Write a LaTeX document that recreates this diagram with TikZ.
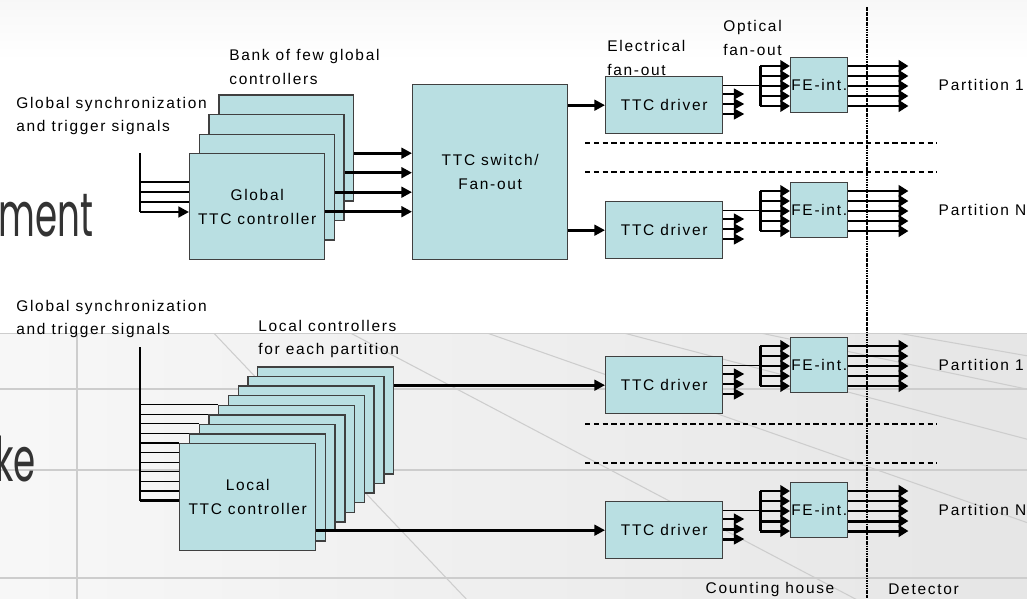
\documentclass[tikz,border=0pt]{standalone}
\usepackage{fontspec}
\setmainfont{Liberation Sans}[LetterSpace=11]
\newfontfamily\slidefont{Poppins}[FakeStretch=0.58]
\usetikzlibrary{positioning,arrows.meta,calc}

\definecolor{ttcbox}{RGB}{185,223,226}
\definecolor{gridgray}{RGB}{205,205,205}
\newcommand\lblfont{\fontsize{8.8pt}{13.6pt}\selectfont}

\begin{document}
\begin{tikzpicture}[x=0.02cm, y=-0.02cm,
    blk/.style={draw=black!75, fill=ttcbox, line width=0.8pt, inner sep=0pt,
                anchor=north west, align=center, font=\lblfont},
    ctrl/.style={blk, minimum width=2.7cm, minimum height=2.12cm},
    lctrl/.style={blk, minimum width=2.72cm, minimum height=2.14cm},
    drv/.style={blk, minimum width=2.34cm, minimum height=1.14cm},
    feint/.style={blk, minimum width=1.14cm, minimum height=1.1cm},
    lbl/.style={inner sep=0pt, anchor=west, align=left, font=\lblfont},
    wire/.style={line width=0.6pt},
    sig/.style={line width=1.7pt, -{Triangle[length=6pt,width=6pt]}},
    fan/.style={line width=1.7pt, -{Triangle[length=5.5pt,width=6.5pt]}},
    sep/.style={line width=0.9pt, dash pattern=on 3pt off 2pt},
]
\useasboundingbox (0,0) rectangle (1027,598);
%
% slide background
\fill[white] (0,0) rectangle (1027,598);
\shade[top color=black!3, bottom color=white] (0,0) rectangle (1027,60);
\shade[left color=black!3, right color=black!10] (0,333) rectangle (1027,598);
\begin{scope}
  \clip (0,333) rectangle (1027,598);
  \coordinate (vp) at (77,189);
  \foreach \k in {0,...,7}
    \draw[gridgray, line width=0.6pt] (vp) -- ($(vp)!5!(77+136.7*\k,333)$);
  \foreach \y in {333,389,470,578}
    \draw[gridgray, line width=0.8pt] (0,\y) -- (1027,\y);
\end{scope}
\node[font={\slidefont\fontsize{35pt}{36pt}\selectfont}, text=black!80, anchor=base west, inner sep=0pt] (ment) at (-2,236) {ment};
\node[font={\slidefont\fontsize{35pt}{36pt}\selectfont}, text=black!80, anchor=base east, inner sep=0pt] (ke) at (36,481) {ke};
%
% labels
\node[lbl] (gsync) at (16,116) {Global synchronization\\and trigger signals};
\node[lbl] (bank) at (229,67) {Bank of few global\\controllers};
\node[lbl] (efan) at (607,58) {Electrical\\fan-out};
\node[lbl] (ofan) at (723,38) {Optical\\fan-out};
\node[lbl] (lsync) at (16,319) {Global synchronization\\and trigger signals};
\node[lbl] (lpart) at (258,339) {Local controllers\\for each partition};
%
% global controllers
\foreach \i in {3,2,1}
  \node[ctrl] (gc\i) at ({189+9.7*\i},{153-19.5*\i}) {};
\node[ctrl] (gc0) at (189,153) {Global\\TTC controller};
\node[blk, minimum width=3.1cm, minimum height=3.5cm] (sw) at (412,84) {TTC switch/\\Fan-out};
%
% local controllers
\foreach \i in {8,7,...,1}
  \node[lctrl] (lc\i) at ({179+9.75*\i},{443-9.6*\i}) {};
\node[lctrl] (lc0) at (179,443) {Local\\TTC controller};
%
% drivers and front-end interfaces
\foreach \n/\t in {1/76,2/201,3/356,4/501} {
  \node[drv] (drv\n) at (605,\t) {TTC driver};
  \node[feint] (fe\n) at (790,\t-19) {FE-int.};
}
%
% global inputs
\coordinate (gbus) at (140,153);
\foreach \d in {29,39,49} {
  \path (gc0.north west) ++(0,\d) coordinate (gin);
  \draw[wire] (gbus |- gin) -- (gin);
}
\path (gc0.north west) ++(0,59) coordinate (gin);
\draw[sig] (gbus |- gin) -- (gin);
\draw[wire] (gbus) -- (gbus |- gin);
%
\foreach \i in {0,...,3} {
  \path (gc\i.east) ++(0,5) coordinate (gout);
  \draw[sig] (gout) -- (sw.west |- gout);
}
\draw[sig] (sw.east |- drv1.west) -- (drv1.west);
\draw[sig] (sw.east |- drv2.west) -- (drv2.west);
%
% local inputs
\coordinate (lbus) at (140,347);
\foreach \k in {0,...,9} {
  \pgfmathtruncatemacro\j{max(4-\k,0)}
  \pgfmathsetmacro\yy{404.6+9.6*\k}
  \path (lc\j.west |- 0,\yy) coordinate (lin);
  \draw[wire] (lbus |- lin) -- (lin);
}
\path (lc0.west |- 0,500.6) coordinate (lin);
\draw[line width=1.7pt] (lbus |- lin) -- (lin);
\draw[wire] (lbus) -- (lbus |- lin);
%
\draw[sig] (lc8.east |- drv3.west) -- (drv3.west);
\draw[sig] (lc0.east |- drv4.west) -- (drv4.west);
%
% fan-out to the partitions
\foreach \n in {1,...,4} {
  \foreach \d in {18,28,38}
    \draw[sig] (drv\n.north east) ++(0,\d) -- ++(21,0);
  \path (fe\n.west) ++(-30,0) coordinate (ofo);
  \draw[wire] (drv\n.east |- ofo) -- (ofo);
  \draw[line width=1.7pt] (fe\n.north west) ++(-30,9) -- ++(0,40);
  \foreach \d in {9,19,...,49} {
    \draw[fan] (fe\n.north west) ++(-30,\d) -- ++(30,0);
    \draw[fan] (fe\n.north east) ++(0,\d) -- ++(60,0);
  }
}
\node[lbl, right=1.8cm of fe1.east] (p1) {Partition 1};
\node[lbl, right=1.8cm of fe2.east] (pn) {Partition N};
\node[lbl, right=1.8cm of fe3.east] (lp1) {Partition 1};
\node[lbl, right=1.8cm of fe4.east] (lpn) {Partition N};
%
\foreach \y in {143,172,424,463}
  \draw[sep] (585,\y) -- (937,\y);
%
% counting house / detector boundary
\coordinate (dtop) at (867,7);
\draw[line width=1.2pt, dash pattern=on 1pt off 0.4pt] (dtop) -- (867,598);
\node[font=\lblfont, inner sep=0pt] (chouse) at (770,589) {Counting house};
\node[lbl] (det) at (888,589) {Detector};
\end{tikzpicture}
\end{document}
